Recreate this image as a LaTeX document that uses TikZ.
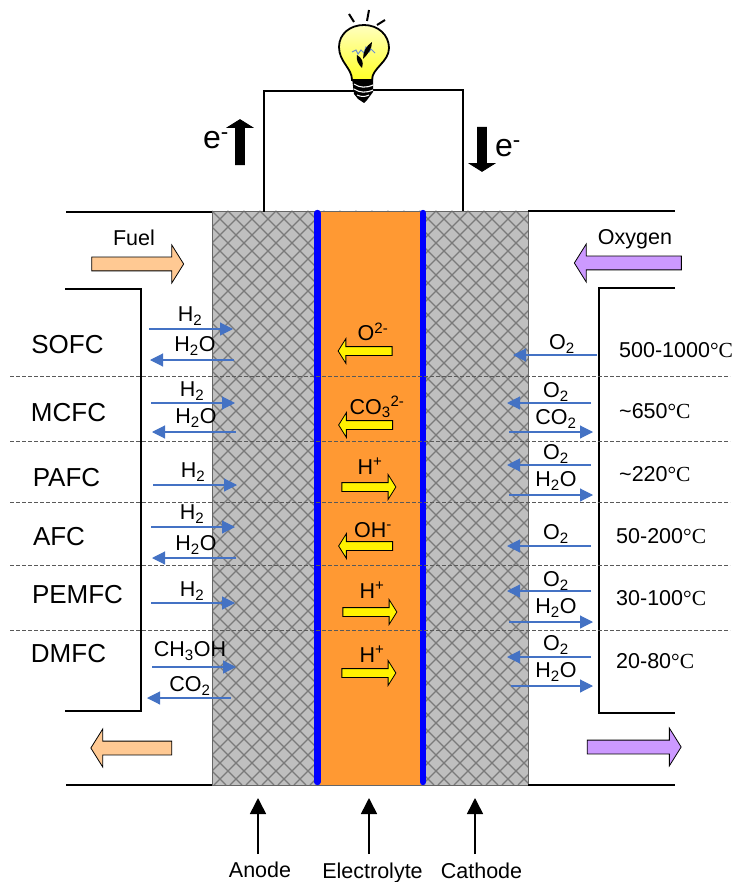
\documentclass[tikz,border=0pt]{standalone}
\usepackage{fontspec}
\setmainfont{Liberation Sans}
\newfontfamily\serifdeg{Liberation Serif}
\usepackage{tikz}
\usetikzlibrary{positioning, arrows.meta, shapes.arrows}
\definecolor{flowblue}{HTML}{4472C4}
\definecolor{peach}{HTML}{FFC993}
\definecolor{lilac}{HTML}{CC99FF}
\definecolor{electro}{HTML}{FF9933}
\definecolor{layergray}{HTML}{BFBFBF}
\tikzstyle{label} = [inner sep=0pt, font=\fontsize{21.5}{24}\selectfont]
\tikzstyle{cell} = [inner sep=0pt, font=\fontsize{26}{28}\selectfont]
\tikzstyle{temp} = [label, anchor=west]
\tikzstyle{foot} = [label, anchor=base]
\tikzstyle{charge} = [inner sep=0pt, font=\fontsize{32}{34}\selectfont]
\tikzstyle{block} = [single arrow, draw=black, line width=0.8pt, minimum width=1pt, inner xsep=0pt, outer sep=0pt, single arrow tip angle=116, single arrow head indent=0pt]
\tikzstyle{fuelarrow} = [block, fill=peach, inner ysep=6.5pt, single arrow head extend=12pt, minimum height=92pt]
\tikzstyle{oxyarrow} = [block, fill=lilac, inner ysep=6.5pt, single arrow head extend=12pt, minimum height=94pt]
\tikzstyle{ionarrow} = [block, fill=yellow, inner ysep=4pt, single arrow head extend=8pt, minimum height=54pt]
\tikzstyle{earrow} = [block, fill=black, inner sep=4pt, single arrow head extend=8pt]
\tikzstyle{flow} = [flowblue, line width=1.1pt, -{Triangle[length=13pt,width=13pt]}]
\tikzstyle{pointer} = [line width=1.6pt, -{Triangle[length=16pt,width=16pt]}]
\tikzstyle{wall} = [line width=2pt]
\tikzstyle{band} = [dashed, dash pattern=on 4pt off 2pt, black!65, line width=0.9pt]
\begin{document}
\begin{tikzpicture}[x=1pt,y=-1pt]
\useasboundingbox (0,0) rectangle (736,882);

% cell layers
\fill [layergray] (212,211) rectangle (528,785);
\begin{scope}
\clip (212,211) rectangle (528,785);
\foreach \k in {0,16,...,912} {
  \draw [black!52, line width=1.1pt] (\k-380,211) -- ++(574,574);
  \draw [black!52, line width=1.1pt] (\k+212,211) -- ++(-574,574);
}
\end{scope}
\fill [electro] (320,211) rectangle (421,785);
\draw [black!60, line width=0.8pt] (212,211) rectangle (528,785);
\draw [blue, line width=6.4pt, line cap=round] (317.3,213) -- (317.3,782);
\draw [blue, line width=6.4pt, line cap=round] (423,213) -- (423,782);

% housing and circuit
\draw [wall] (66,212) -- (212,212);
\draw [wall] (528,211) -- (675,211);
\draw [wall] (66,785) -- (212,785);
\draw [wall] (528,785) -- (675,785);
\draw [wall] (65,289) -- (141,289) -- (141,711) -- (65,711);
\draw [wall] (675,288) -- (599,288) -- (599,713) -- (675,713);
\draw [wall] (264,212) -- (264,91) -- (354,91);
\draw [wall] (373,90) -- (463,90) -- (463,211);

% lamp
\fill [black] (352,78) -- (373,78) -- (373,92) -- (367,100) -- (364,103) -- (358,99) -- (354,94) -- cycle;
\draw [white, line width=1.1pt] (354,84) .. controls (360,88) and (366,88) .. (373,85);
\draw [white, line width=1.1pt] (354,89) .. controls (360,93) and (366,93) .. (373,90);
\draw [white, line width=1pt] (357,95) .. controls (361,97) and (365,97) .. (369,95);
\path [draw=black, line width=1.8pt, top color=yellow!25, bottom color=yellow!85]
  (352,80) .. controls (352,68) and (339,62) .. (339,47) .. controls (339,34) and (350,25) .. (364,25)
  .. controls (378,25) and (389,35) .. (389,48) .. controls (389,62) and (372,68) .. (372,80) -- cycle;
\draw [flowblue!80, line width=1pt] (352,52) -- (356,50) -- (358,54) -- (361,50) -- (364,53) -- (366,47) -- (369,52) -- (371,49) -- (375,53);
\fill [black] (372,42) .. controls (372,49) and (368,54) .. (363,59) .. controls (363,52) and (366,46) .. (372,42) -- cycle;
\fill [black] (357,55) .. controls (356,60) and (358,64) .. (362,68) .. controls (364,62) and (362,58) .. (357,55) -- cycle;
\draw [black, line width=2pt] (349,14) -- (354,22);
\draw [black, line width=2pt] (369,10) -- (367,21);
\draw [black, line width=2pt] (385,20) -- (377,25);

% electrons
\node (eLeft) [charge] at (216,140) {e\textsuperscript{-}};
\node (eRight) [charge] at (508,148) {e\textsuperscript{-}};
\node (eUp) [earrow, minimum height=45pt, shape border rotate=90] at (240,143.5) {};
\node (eDown) [earrow, minimum height=44pt, shape border rotate=270] at (482,148) {};

% gas streams
\node (Fuel) [label] at (134,238) {Fuel};
\node (Oxygen) [label] at (635,239) {Oxygen};
\node (FuelIn) [fuelarrow] at (135.5,264) {};
\node (FuelOut) [fuelarrow, minimum height=81pt, shape border rotate=180] at (133.5,748) {};
\node (OxyIn) [oxyarrow, minimum height=107pt, shape border rotate=180] at (630,263) {};
\node (OxyOut) [oxyarrow] at (632,747) {};

% fuel cell types
\node (SOFC) [cell] at (67.5,345) {SOFC};
\node (MCFC) [cell] at (68.5,413) {MCFC};
\node (PAFC) [cell] at (66.5,478) {PAFC};
\node (AFC) [cell] at (59,537) {AFC};
\node (PEMFC) [cell] at (77.5,595) {PEMFC};
\node (DMFC) [cell] at (68.5,654) {DMFC};

% operating temperatures
\foreach \name/\xx/\yy/\txt in {tSOFC/619/350/500-1000, tMCFC/619/411/\textasciitilde 650, tPAFC/619/474/\textasciitilde 220, tAFC/616/536/50-200, tPEMFC/616/598/30-100, tDMFC/616/661/20-80} {
  \node (\name) [temp] at (\xx,\yy) {\txt{\serifdeg °C}};
}

% ions in the electrolyte
\node (ionSOFC) [ionarrow, shape border rotate=180] at (366.5,351) {};
\node (ionMCFC) [ionarrow, shape border rotate=180] at (367,425) {};
\node (ionPAFC) [ionarrow] at (367.5,487) {};
\node (ionAFC) [ionarrow, shape border rotate=180] at (367,546) {};
\node (ionPEMFC) [ionarrow] at (368.5,612) {};
\node (ionDMFC) [ionarrow] at (367.5,673) {};
\node (lSOFC) [label] at (373,332) {O\textsuperscript{2-}};
\node (lMCFC) [label] at (377,407) {CO\textsubscript{3}\textsuperscript{2-}};
\node (lPAFC) [label] at (370,466) {H\textsuperscript{+}};
\node (lAFC) [label] at (373,530) {OH\textsuperscript{-}};
\node (lPEMFC) [label] at (372,590) {H\textsuperscript{+}};
\node (lDMFC) [label] at (372,654) {H\textsuperscript{+}};

% species, anode and cathode side
\foreach \name/\xa/\xb/\yy/\lx/\ly/\txt in {
  aa/149/233/329/190/316/H\textsubscript{2},
  ab/234/150/360/195/346/H\textsubscript{2}O,
  ac/151/235/403/192/391/H\textsubscript{2},
  ad/236/152/432/196/418/H\textsubscript{2}O,
  ae/153/237/485/193/472/H\textsubscript{2},
  af/151/235/527/192/514/H\textsubscript{2},
  ag/236/152/558/196/545/H\textsubscript{2}O,
  ah/151/235/603/192/591/H\textsubscript{2},
  ai/152/236/667/190/651/CH\textsubscript{3}OH,
  aj/231/147/698/190/686/CO\textsubscript{2},
  ca/597/513/355/562/344/O\textsubscript{2},
  cb/591/507/403/556/392/O\textsubscript{2},
  cc/509/593/432/556/419/CO\textsubscript{2},
  cd/591/507/465/556/454/O\textsubscript{2},
  ce/509/593/495/556/481/H\textsubscript{2}O,
  cf/591/507/546/556/534/O\textsubscript{2},
  cg/591/507/591/556/581/O\textsubscript{2},
  ch/509/593/622/556/608/H\textsubscript{2}O,
  ci/591/507/657/556/645/O\textsubscript{2},
  cj/511/593/686/556/672/H\textsubscript{2}O} {
  \coordinate (\name From) at (\xa,\yy);
  \coordinate (\name To) at (\xb,\yy);
  \draw [flow] (\name From) -- (\name To);
  \node (\name Text) [label] at (\lx,\ly) {\txt};
}

% rows
\foreach \yy in {376,441,502,565,630} {
  \draw [band] (10,\yy) -- (730,\yy);
}

% layer names
\node (Anode) [foot] at (260,877.5) {Anode};
\node (Electrolyte) [foot] at (372.5,878) {Electrolyte};
\node (Cathode) [foot] at (481.5,878) {Cathode};
\coordinate (AnodeTail) at (258,854);
\coordinate (AnodeTip) at (258,798);
\coordinate (ElectrolyteTail) at (369,854);
\coordinate (ElectrolyteTip) at (369,798);
\coordinate (CathodeTail) at (475,854);
\coordinate (CathodeTip) at (475,798);
\draw [pointer] (AnodeTail) -- (AnodeTip);
\draw [pointer] (ElectrolyteTail) -- (ElectrolyteTip);
\draw [pointer] (CathodeTail) -- (CathodeTip);
\end{tikzpicture}
\end{document}
